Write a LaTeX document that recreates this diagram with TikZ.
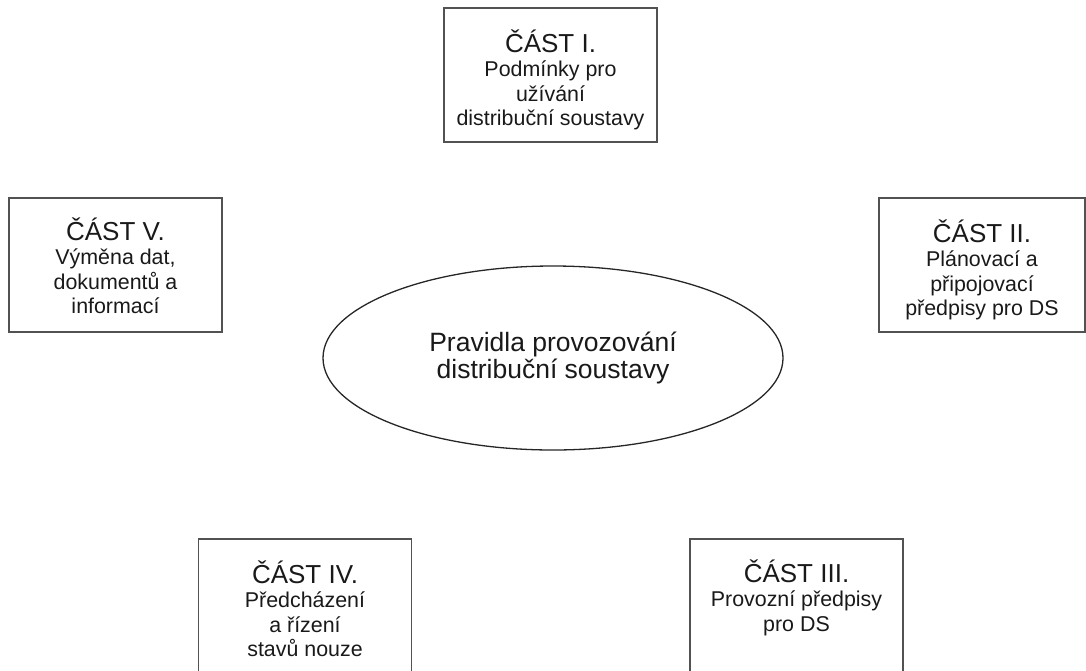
\documentclass[tikz,border=0pt]{standalone}
\usepackage{fontspec}
\setmainfont{Liberation Sans}
\usetikzlibrary{positioning, shapes.geometric}

% heading line of each part
\newcommand{\parthead}[1]{{\fontsize{26}{24.5}\selectfont #1}}

\begin{document}
\begin{tikzpicture}[x=1pt, y=-1pt,
    partbox/.style={draw=black!68, line width=1.7pt, minimum width=213pt, minimum height=134pt, inner sep=0pt},
    parttext/.style={align=center, inner sep=0pt, text=black!90, font=\fontsize{21.4}{24.5}\selectfont}]

    \useasboundingbox (0,0) rectangle (1086,670);

    % --- Centre ---
    \node[ellipse, draw=black!85, line width=1.3pt, minimum width=460pt, minimum height=184pt,
          inner sep=0pt, align=center, text=black!90, font=\fontsize{26.5}{27.5}\selectfont]
          (rules) at (553,358) {Pravidla provozování\\distribuční soustavy};

    % --- Parts (box, then its text from the top) ---
    % Part I, top
    \node[partbox] (p1) at (550.5,75) {};
    \node[parttext, below=22pt of p1.north] (t1) {\parthead{ČÁST I.}\\Podmínky pro\\užívání\\distribuční soustavy};

    % Part II, right
    \node[partbox, minimum width=206pt] (p2) at (982,265) {};
    \node[parttext, below=22pt of p2.north] (t2) {\parthead{ČÁST II.}\\Plánovací a\\připojovací\\předpisy pro DS};

    % Part III, bottom right (cut by the page edge)
    \node[partbox] (p3) at (796.5,606) {};
    \node[parttext, below=21pt of p3.north] (t3) {\parthead{ČÁST III.}\\Provozní předpisy\\pro DS};

    % Part IV, bottom left (cut by the page edge)
    \node[partbox] (p4) at (305,606) {};
    \node[parttext, below=22pt of p4.north] (t4) {\parthead{ČÁST IV.}\\Předcházení\\a řízení\\stavů nouze};

    % Part V, left
    \node[partbox] (p5) at (115.5,265) {};
    \node[parttext, below=20pt of p5.north] (t5) {\parthead{ČÁST V.}\\Výměna dat,\\dokumentů a\\informací};

\end{tikzpicture}
\end{document}
